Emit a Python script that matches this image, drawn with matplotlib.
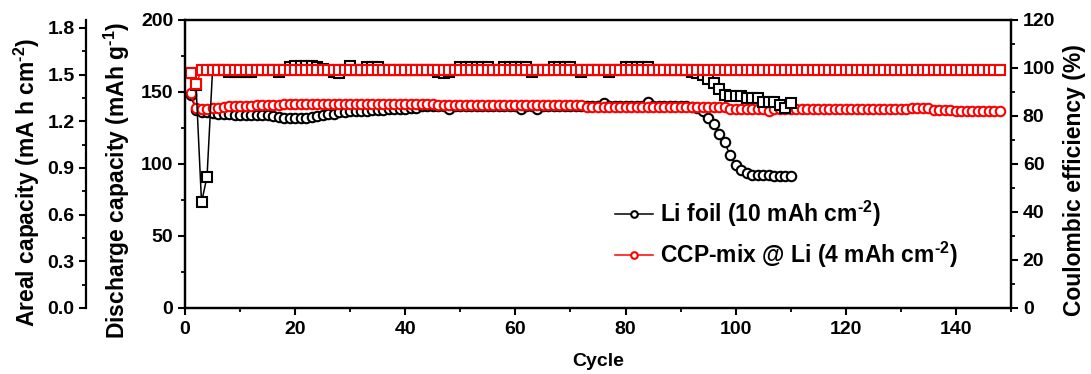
import matplotlib
matplotlib.use("Agg")
import matplotlib.pyplot as plt
import numpy as np
from matplotlib.ticker import MultipleLocator

plt.rcParams['font.family'] = ['Liberation Sans', 'DejaVu Sans']
plt.rcParams['font.weight'] = 'bold'
plt.rcParams['mathtext.fontset'] = 'custom'
plt.rcParams['mathtext.rm'] = 'Liberation Sans:bold'
plt.rcParams['mathtext.bf'] = 'Liberation Sans:bold'
plt.rcParams['mathtext.it'] = 'Liberation Sans:bold'
plt.rcParams['mathtext.default'] = 'rm'

# Li foil (10 mAh cm-2): discharge capacity (mAh/g), cycles 1-110
li_cap = [148, 137.5, 136, 136, 135.5, 135, 134.5, 134.5, 134, 134,
          134, 134, 134, 134, 134, 133.5, 132.5, 132.2, 132, 132,
          132, 132.2, 132.5, 133.5, 134, 134.5, 135, 136, 136.3, 136.5,
          136.5, 137, 137, 137.5, 137.5, 137.5, 138, 138, 138, 138.5,
          139, 139, 140, 140, 140, 140, 140, 138, 140, 140,
          140, 140, 140, 140, 140, 140, 140, 140, 140, 140,
          138, 140, 140, 138, 140, 140, 140, 140, 140, 140,
          140, 140, 140.5, 140.5, 140.5, 142.5, 140.5, 140.5, 140.5, 140.5,
          140.5, 140.5, 140.5, 143, 140.5, 140.5, 140.5, 140.5, 140, 140,
          140, 139.5, 139, 137, 132, 127.5, 121, 115, 106, 99.5,
          95.5, 93.5, 92.5, 92.3, 92.2, 92.1, 92, 92, 91.8, 91.6]

# Li foil coulombic efficiency (%)
li_ce = [97.8, 93.0, 44.0, 54.7, 99.0, 99.2, 99.0, 98.2, 98.3, 98.2,
         98.2, 98.3, 99.0, 99.1, 99.0, 99.2, 98.2, 99.3, 100.6, 100.7,
         100.7, 101.0, 100.8, 100.5, 99.6, 99.3, 98.2, 98.1, 99.2, 100.9,
         99.3, 99.2, 100.4, 100.5, 100.4, 99.2, 99.2, 99.2, 99.2, 99.2,
         99.2, 99.2, 99.2, 99.2, 99.2, 98.2, 98.1, 98.2, 99.2, 100.6,
         100.6, 100.6, 100.6, 100.6, 100.5, 99.2, 99.2, 100.6, 100.6, 100.6,
         100.6, 100.5, 98.2, 99.2, 99.2, 99.2, 100.5, 100.5, 100.6, 100.5,
         99.2, 98.2, 99.2, 99.2, 99.2, 99.2, 98.2, 99.2, 99.2, 100.5,
         100.6, 100.6, 100.5, 100.5, 99.2, 99.2, 99.2, 99.2, 99.2, 99.2,
         99.2, 98.5, 97.8, 96.9, 95.4, 93.6, 91.2, 88.8, 88.5, 88.5,
         88.5, 87.4, 87.4, 87.4, 86.0, 86.0, 86.0, 84.6, 83.4, 85.4]

# CCP-mix @ Li (4 mAh cm-2): discharge capacity (mAh/g), cycles 1-148
ccp_cap = [149, 139, 138.5, 138.5, 139, 139, 139.5, 140, 140, 140,
           140.5, 140.5, 141, 141, 141, 141, 141, 141.5, 142, 142,
           142, 142, 142, 142, 142, 142, 142, 142, 142, 142,
           142, 142, 142, 142, 142, 142, 142, 142, 142, 142,
           142, 142, 142, 142, 142, 141, 141, 141, 141, 141,
           141, 141, 141, 141, 141, 141, 141, 141, 141, 141,
           141, 141, 141, 141, 141, 141, 141, 141, 141, 141,
           141, 141, 139.5, 139.5, 139.5, 139.5, 139.5, 139.5, 139.5, 139.5,
           139.5, 139.5, 139.5, 139.5, 139.5, 139.5, 139.5, 139.5, 139.5, 139.5,
           139.5, 139.5, 139.5, 139.5, 139.5, 139.5, 139.5, 139.5, 138, 138,
           138, 138, 138, 138, 138, 136.5, 138, 138, 138, 138,
           138, 138, 138, 138, 138, 138, 138, 138, 138, 138,
           138, 138, 138, 138, 138, 138, 138, 138, 138, 138,
           138, 139, 139, 139, 139, 137.5, 137.5, 137.5, 137.5, 137,
           137, 137, 137, 137, 137, 137, 137, 137]

# CCP-mix @ Li coulombic efficiency (%)
ccp_ce = [97.8, 93.2, 99.2, 99.2, 99.2, 99.2, 99.2, 99.2, 99.2, 99.2,
          99.2, 99.2, 99.2, 99.2, 99.2, 99.2, 99.2, 99.2, 99.2, 99.2,
          99.2, 99.2, 99.2, 99.2, 99.2, 99.2, 99.2, 99.2, 99.2, 99.2,
          99.2, 99.2, 99.2, 99.2, 99.2, 99.2, 99.2, 99.2, 99.2, 99.2,
          99.2, 99.2, 99.2, 99.2, 99.2, 99.2, 99.2, 99.2, 99.2, 99.2,
          99.2, 99.2, 99.2, 99.2, 99.2, 99.2, 99.2, 99.2, 99.2, 99.2,
          99.2, 99.2, 99.2, 99.2, 99.2, 99.2, 99.2, 99.2, 99.2, 99.2,
          99.2, 99.2, 99.2, 99.2, 99.2, 99.2, 99.2, 99.2, 99.2, 99.2,
          99.2, 99.2, 99.2, 99.2, 99.2, 99.2, 99.2, 99.2, 99.2, 99.2,
          99.2, 99.2, 99.2, 99.2, 99.2, 99.2, 99.2, 99.2, 99.2, 99.2,
          99.2, 99.2, 99.2, 99.2, 99.2, 99.2, 99.2, 99.2, 99.2, 99.2,
          99.2, 99.2, 99.2, 99.2, 99.2, 99.2, 99.2, 99.2, 99.2, 99.2,
          99.2, 99.2, 99.2, 99.2, 99.2, 99.2, 99.2, 99.2, 99.2, 99.2,
          99.2, 99.2, 99.2, 99.2, 99.2, 99.2, 99.2, 99.2, 99.2, 99.2,
          99.2, 99.2, 99.2, 99.2, 99.2, 99.2, 99.2, 99.2]

li_cycle = np.arange(1, len(li_cap) + 1)
ccp_cycle = np.arange(1, len(ccp_cap) + 1)

fig = plt.figure(figsize=(10.91, 3.74), dpi=100)
ax = fig.add_axes([185 / 1091, 1 - 308 / 374, 826 / 1091, 288 / 374])
ax2 = ax.twinx()
ax3 = ax.twinx()

mk = dict(markersize=6.8, markerfacecolor='white', markeredgewidth=1.5, linewidth=1.1)
h1, = ax.plot(li_cycle, li_cap, 'o-', color='black', **mk)
h2, = ax.plot(ccp_cycle, ccp_cap, 'o-', color='red', **mk)
ax2.plot(li_cycle, li_ce, 's-', color='black', **mk)
ax2.plot(ccp_cycle, ccp_ce, 's-', color='red', **mk)

ax.set_xlim(0, 150)
ax.set_ylim(0, 200)
ax2.set_ylim(0, 120)
ax3.set_ylim(0, 1.8514)

ax.xaxis.set_major_locator(MultipleLocator(20))
ax.xaxis.set_minor_locator(MultipleLocator(10))
ax.yaxis.set_major_locator(MultipleLocator(50))
ax.yaxis.set_minor_locator(MultipleLocator(25))
ax2.yaxis.set_major_locator(MultipleLocator(20))
ax2.yaxis.set_minor_locator(MultipleLocator(10))
ax3.yaxis.set_major_locator(MultipleLocator(0.3))
ax3.yaxis.set_minor_locator(MultipleLocator(0.15))
ax3.yaxis.set_major_formatter(matplotlib.ticker.FormatStrFormatter('%.1f'))

# areal capacity axis sits to the left of the main one
ax3.yaxis.set_ticks_position('left')
ax3.spines['left'].set_visible(True)
ax3.spines['left'].set_position(('outward', 71))
ax3.spines['right'].set_visible(False)
ax3.spines['top'].set_visible(False)
ax3.spines['bottom'].set_visible(False)

for a in (ax, ax2, ax3):
    for s in a.spines.values():
        s.set_linewidth(1.6)
    a.tick_params(which='major', direction='out', length=5, width=1.5, labelsize=14)
    a.tick_params(which='minor', direction='out', length=3, width=1.3)
    for lab in a.get_xticklabels() + a.get_yticklabels():
        lab.set_fontweight('bold')
ax.tick_params(axis='x', pad=4)

fig.text(27 / 1091, 1 - 182 / 374, r'Areal capacity (mA h cm$^{\text{-2}}$)', rotation=90,
         ha='center', va='center', fontsize=16.5, fontweight='bold')
fig.text(117 / 1091, 1 - 180 / 374, r'Discharge capacity (mAh g$^{\text{-1}}$)', rotation=90,
         ha='center', va='center', fontsize=16.5, fontweight='bold')
fig.text(1075 / 1091, 1 - 180 / 374, 'Coulombic efficiency (%)', rotation=90,
         ha='center', va='center', fontsize=16.5, fontweight='bold')
fig.text(598 / 1091, 1 - 361 / 374, 'Cycle', ha='center', va='center',
         fontsize=14, fontweight='bold')

leg = ax3.legend([h1, h2], [r'Li foil (10 mAh cm$^{\text{-2}}$)', r'CCP-mix @ Li (4 mAh cm$^{\text{-2}}$)'],
                 loc='center left', bbox_to_anchor=(0.52, 0.255), borderaxespad=0,
                 borderpad=0, frameon=False, fontsize=16.5, markerscale=0.7,
                 handlelength=1.7, handletextpad=0.3, labelspacing=0.5)

fig.savefig('out.png', dpi=100)
